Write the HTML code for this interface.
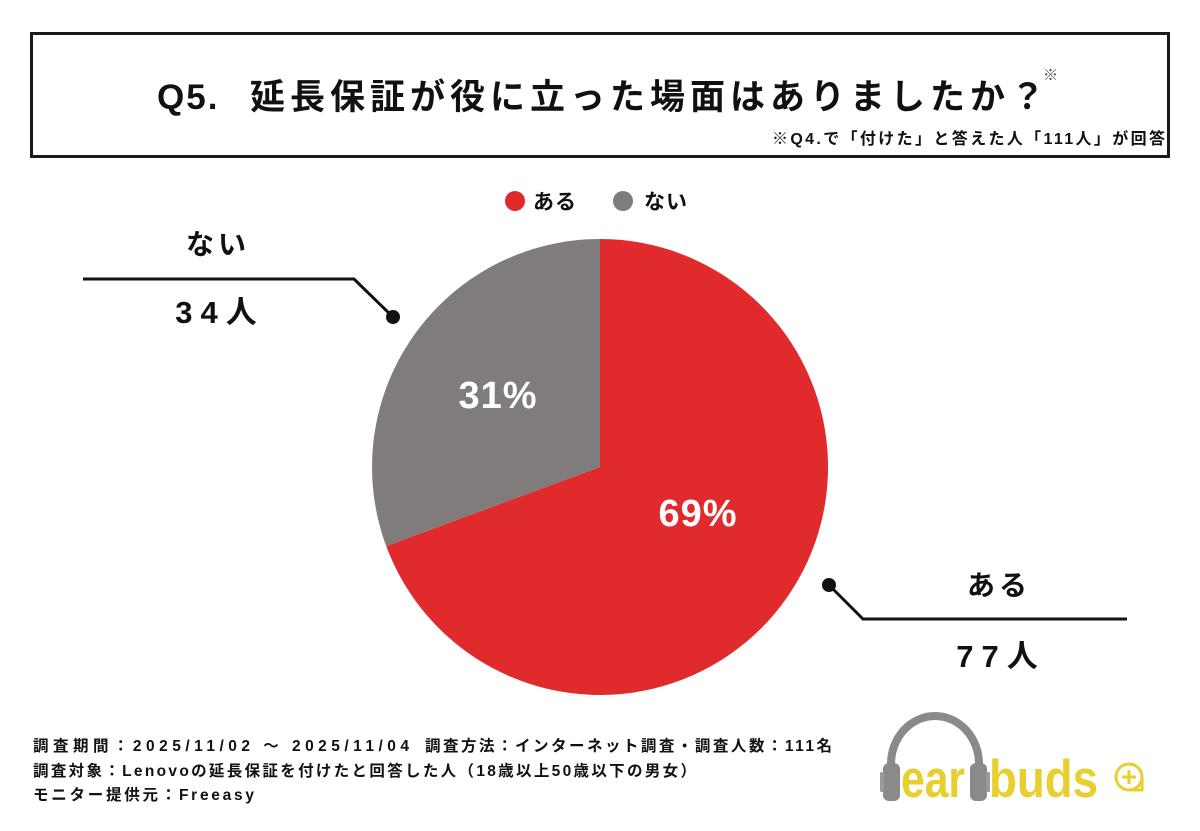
<!DOCTYPE html>
<html>
<head>
<meta charset="utf-8">
<style>
  html,body{margin:0;padding:0;background:#fff;}
  svg{display:block;}
  text{font-family:"Liberation Sans","Noto Sans CJK JP",sans-serif;font-weight:700;fill:#111;}
</style>
</head>
<body>
<svg width="1200" height="831" viewBox="0 0 1200 831" xmlns="http://www.w3.org/2000/svg">
  <rect x="0" y="0" width="1200" height="831" fill="#fff"/>

  <!-- Title box -->
  <rect x="31.5" y="33.5" width="1137" height="123" fill="none" stroke="#1a1a1a" stroke-width="3"/>
  <text x="157" y="109" font-size="35" style="letter-spacing:2px">Q5.</text>
  <text x="250" y="109" font-size="35" style="letter-spacing:5px">延長保証が役に立った場面はありましたか？</text>
  <text x="1043" y="80" font-size="15" style="font-weight:400;fill:#444">※</text>
  <text x="772" y="144" font-size="16" textLength="393" lengthAdjust="spacing">※Q4.で「付けた」と答えた人「111人」が回答</text>

  <!-- Legend -->
  <circle cx="515" cy="201" r="10" fill="#E12A2C"/>
  <text x="533" y="209" font-size="21" style="letter-spacing:1px">ある</text>
  <circle cx="623" cy="201" r="10" fill="#807C7B"/>
  <text x="644" y="209" font-size="21" style="letter-spacing:1px">ない</text>

  <!-- Pie -->
  <path d="M600,467 L600,239 A228,228 0 1,1 386.2,546.1 Z" fill="#E12A2C"/>
  <path d="M600,467 L600,239 A228,228 0 0,0 386.2,546.1 Z" fill="#807C7B"/>

  <text x="498" y="408" font-size="38" text-anchor="middle" style="fill:#fff;letter-spacing:1px">31%</text>
  <text x="698" y="526" font-size="38" text-anchor="middle" style="fill:#fff;letter-spacing:1px">69%</text>

  <!-- Left leader -->
  <polyline points="83,279 354,279 393,317" fill="none" stroke="#111" stroke-width="3"/>
  <circle cx="393" cy="317" r="7" fill="#111"/>
  <text x="218" y="254" font-size="28" text-anchor="middle" style="letter-spacing:4px">ない</text>
  <text x="220" y="323" font-size="31" text-anchor="middle" style="letter-spacing:8px">34人</text>

  <!-- Right leader -->
  <polyline points="1127,619 863,619 829,585" fill="none" stroke="#111" stroke-width="3"/>
  <circle cx="829" cy="585" r="7" fill="#111"/>
  <text x="999" y="595" font-size="28" text-anchor="middle" style="letter-spacing:4px">ある</text>
  <text x="1001" y="667" font-size="31" text-anchor="middle" style="letter-spacing:8px">77人</text>

  <!-- Footer -->
  <text x="33" y="751" font-size="15.5" textLength="376" lengthAdjust="spacing">調査期間：2025/11/02 ～ 2025/11/04</text>
  <text x="425" y="751" font-size="15.5" textLength="407" lengthAdjust="spacing">調査方法：インターネット調査・調査人数：111名</text>
  <text x="33" y="776" font-size="15.5" textLength="663" lengthAdjust="spacing">調査対象：Lenovoの延長保証を付けたと回答した人（18歳以上50歳以下の男女）</text>
  <text x="33" y="800" font-size="15.5" textLength="221" lengthAdjust="spacing">モニター提供元：Freeasy</text>

  <!-- Logo -->
  <path d="M891,770 L891,764 A44,48 0 0,1 979,764 L979,770" fill="none" stroke="#8A8A8A" stroke-width="8"/>
  <rect x="883" y="763" width="17" height="38" rx="6" fill="#8A8A8A"/>
  <rect x="970" y="763" width="17" height="38" rx="6" fill="#8A8A8A"/>
  <rect x="880" y="772" width="4" height="20" rx="1.5" fill="#9a9a9a"/>
  <rect x="986" y="772" width="4" height="20" rx="1.5" fill="#9a9a9a"/>
  <text transform="translate(901,797) scale(1,1.22)" font-size="43" textLength="64" lengthAdjust="spacingAndGlyphs" style="fill:#E6CF2E">ear</text>
  <text transform="translate(989,797) scale(1,1.22)" font-size="43" textLength="109" lengthAdjust="spacingAndGlyphs" style="fill:#E6CF2E">buds</text>
  <path d="M1129,764 A13,13 0 1,0 1142,777 L1142,790 L1129,790" fill="none" stroke="#E6CF2E" stroke-width="3"/>
  <path d="M1129,764 A13,13 0 0,1 1142,777" fill="none" stroke="#E6CF2E" stroke-width="3"/>
  <line x1="1122" y1="777" x2="1136" y2="777" stroke="#E6CF2E" stroke-width="3"/>
  <line x1="1129" y1="770" x2="1129" y2="784" stroke="#E6CF2E" stroke-width="3"/>
</svg>
</body>
</html>
